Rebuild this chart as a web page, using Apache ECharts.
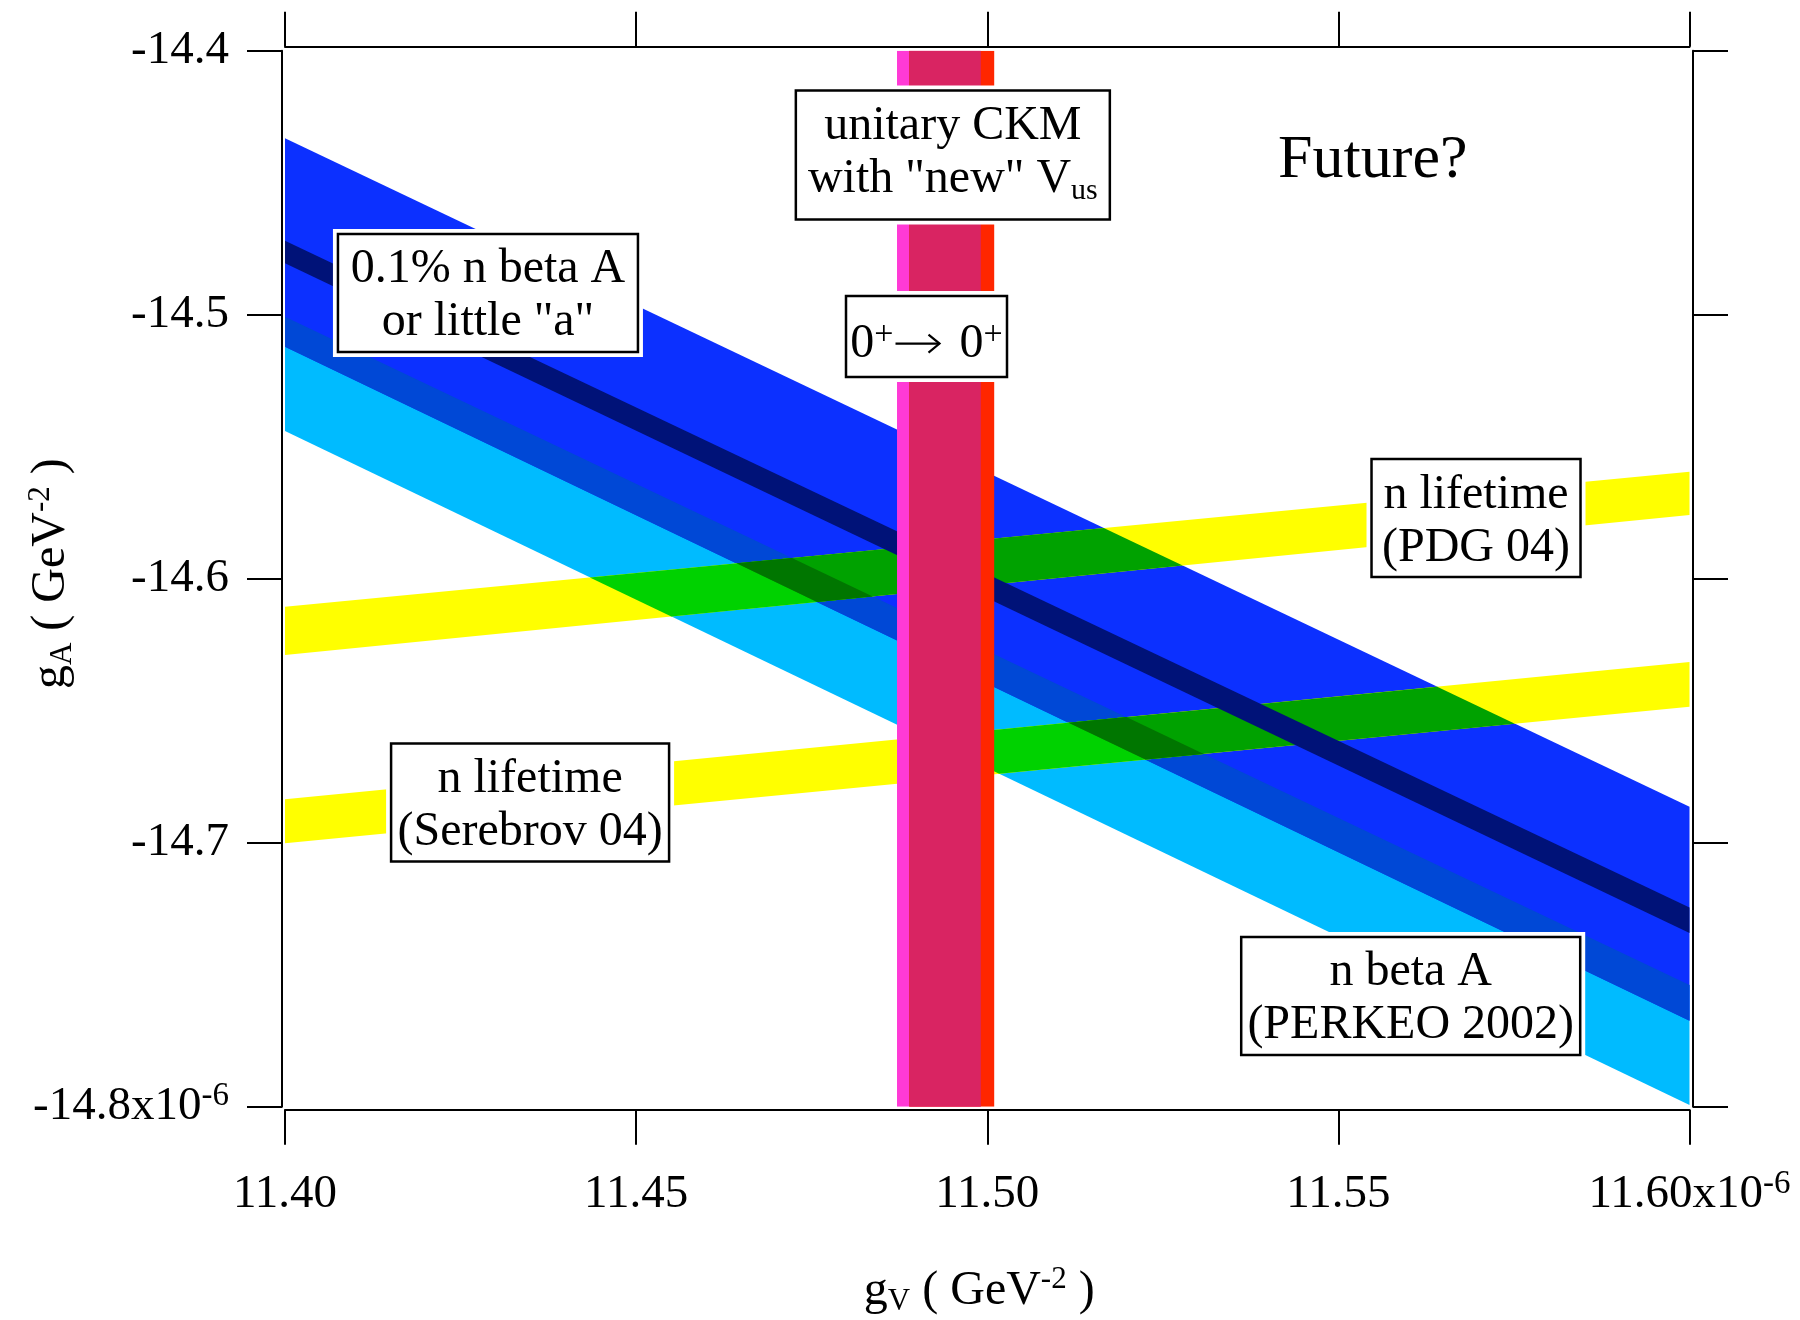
<!DOCTYPE html>
<html>
<head>
<meta charset="utf-8">
<script src="https://cdn.jsdelivr.net/npm/echarts@6/dist/echarts.min.js"></script>
<style>
html, body { margin: 0; padding: 0; background: #ffffff; }
#chart { width: 1800px; height: 1320px; }
</style>
</head>
<body>
<div id="chart"></div>
<script>
// ---- values -------------------------------------------------------------
// gV positions at which the sloped band edges are given
const gvEnds = [11.40, 11.60];
// neutron beta asymmetry, PERKEO 2002 (gA at gV = 11.40, 11.60)
const perkeoUpper = [-14.5008, -14.7539];
const perkeoLower = [-14.5441, -14.7994];
// 0.1% n beta A or little "a"
const betaAUpper = [-14.4332, -14.6864];
const betaALower = [-14.5121, -14.7674];
const betaACoreUpper = [-14.4720, -14.7245];
const betaACoreLower = [-14.4805, -14.7342];
// neutron lifetime, PDG 04
const pdgUpper = [-14.6106, -14.5595];
const pdgLower = [-14.6289, -14.5759];
// neutron lifetime, Serebrov 04
const serebrovUpper = [-14.6835, -14.6316];
const serebrovLower = [-14.7002, -14.6485];
// vertical bands (gV intervals)
const ckmBand = [11.48715, 11.49908];
const superallowedBand = [11.48889, 11.50099];
// axis ticks
const gvTicks = ['11.40', '11.45', '11.50', '11.55', '11.60'];
const gaTicks = ['-14.8', '-14.7', '-14.6', '-14.5', '-14.4'];

// ---- helpers ------------------------------------------------------------
const FONT = '"Liberation Serif", "Times New Roman", serif';
const gvMin = parseFloat(gvTicks[0]), gvMax = parseFloat(gvTicks[gvTicks.length - 1]);
const gaMin = parseFloat(gaTicks[0]), gaMax = parseFloat(gaTicks[gaTicks.length - 1]);

function band(upper, lower) {
  return [[gvEnds[0], upper[0]], [gvEnds[1], upper[1]], [gvEnds[1], lower[1]], [gvEnds[0], lower[0]]];
}
function strip(range) {
  return [[range[0], gaMin], [range[1], gaMin], [range[1], gaMax], [range[0], gaMax]];
}
function signedArea(p) {
  let s = 0;
  for (let i = 0; i < p.length; i++) {
    const a = p[i], b = p[(i + 1) % p.length];
    s += a[0] * b[1] - b[0] * a[1];
  }
  return s / 2;
}
// Sutherland-Hodgman intersection of a polygon with a convex polygon
function intersect(subject, clip) {
  const orient = Math.sign(signedArea(clip));
  let out = subject;
  for (let i = 0; i < clip.length && out.length; i++) {
    const a = clip[i], b = clip[(i + 1) % clip.length];
    const side = p => orient * ((b[0] - a[0]) * (p[1] - a[1]) - (b[1] - a[1]) * (p[0] - a[0]));
    const input = out;
    out = [];
    for (let j = 0; j < input.length; j++) {
      const P = input[j], Q = input[(j + 1) % input.length];
      const sp = side(P), sq = side(Q);
      if (sp >= 0) out.push(P);
      if ((sp >= 0) !== (sq >= 0)) {
        const t = sp / (sp - sq);
        out.push([P[0] + t * (Q[0] - P[0]), P[1] + t * (Q[1] - P[1])]);
      }
    }
  }
  return out;
}

const perkeo = band(perkeoUpper, perkeoLower);
const betaA = band(betaAUpper, betaALower);
const betaACore = band(betaACoreUpper, betaACoreLower);
const pdg = band(pdgUpper, pdgLower);
const serebrov = band(serebrovUpper, serebrovLower);
const ckm = strip(ckmBand);
const superallowed = strip(superallowedBand);
const lifetimes = [pdg, serebrov];

// drawing order, bottom to top
const layers = [
  { name: 'n beta A (PERKEO 2002)', color: '#00BBFF', polys: [perkeo] },
  { name: '0.1% n beta A', color: '#0C30FF', polys: [betaA] },
  { name: 'beta A overlap', color: '#0048D6', polys: [intersect(betaA, perkeo)] },
  { name: 'n lifetime', color: '#FFFF00', polys: lifetimes },
  { name: 'lifetime x PERKEO', color: '#00D200', polys: lifetimes.map(l => intersect(l, perkeo)) },
  { name: 'lifetime x 0.1% A', color: '#00A200', polys: lifetimes.map(l => intersect(l, betaA)) },
  { name: 'lifetime x both', color: '#007600', polys: lifetimes.map(l => intersect(intersect(l, betaA), perkeo)) },
  { name: '0.1% n beta A central', color: '#001278', polys: [betaACore] },
  { name: 'unitary CKM', color: '#FF3AD6', polys: [ckm] },
  { name: '0+ -> 0+', color: '#FF2600', polys: [superallowed] },
  { name: 'CKM x 0+ -> 0+', color: '#D92462', polys: [intersect(ckm, superallowed)] }
];

const bandSeries = layers.map((layer, k) => ({
  type: 'custom',
  name: layer.name,
  clip: true,
  silent: true,
  z: 2 + k,
  data: layer.polys.map((_, i) => i),
  renderItem: (params, api) => {
    const poly = layer.polys[params.dataIndex];
    if (!poly || poly.length < 3) return null;
    return {
      type: 'polygon',
      shape: { points: poly.map(p => api.coord(p)) },
      style: { fill: layer.color }
    };
  }
}));

// ---- boxed annotations -------------------------------------------------
const richText = {
  sup: { fontSize: 34, fontFamily: FONT, verticalAlign: 'top', lineHeight: 8, fill: '#000' },
  sub: { fontSize: 30, fontFamily: FONT, verticalAlign: 'bottom', lineHeight: 12, fill: '#000' }
};
const notes = [
  { text: '0.1% n beta A\nor little "a"', at: [11.4289, -14.4918], box: [300, 118], dy: 3 },
  { text: 'unitary CKM\nwith "new" V{sub|us}', at: [11.4951, -14.4395], box: [314, 129], dy: -2 },
  // transition label: text on either side of a drawn arrow
  { left: '0{sup|+}', right: '0{sup|+}', at: [11.49135, -14.5083], box: [161, 81], dy: 8 },
  { text: 'n lifetime\n(PDG 04)', at: [11.5696, -14.5770], box: [209, 118], dy: 4 },
  { text: 'n lifetime\n(Serebrov 04)', at: [11.4349, -14.6848], box: [278, 118], dy: 3 },
  { text: 'n beta A\n(PERKEO 2002)', at: [11.5603, -14.7581], box: [339, 118], dy: 3 },
  { text: 'Future?', at: [11.5549, -14.4399], box: null, dy: 5, size: 62 }
];

function noteText(text, x, y, align, size) {
  return {
    type: 'text', x: x, y: y,
    style: {
      text: text, align: align, verticalAlign: 'middle',
      fontSize: size || 48, fontFamily: FONT, lineHeight: 53,
      fill: '#000000', rich: richText
    }
  };
}

const noteSeries = {
  type: 'custom',
  name: 'notes',
  clip: false,
  silent: true,
  z: 30,
  data: notes.map((_, i) => i),
  renderItem: (params, api) => {
    const n = notes[params.dataIndex];
    const p = api.coord(n.at);
    const children = [];
    if (n.box) {
      const w = n.box[0], h = n.box[1];
      children.push({
        type: 'rect',
        shape: { x: p[0] - w / 2 - 5, y: p[1] - h / 2 - 5, width: w + 10, height: h + 10 },
        style: { fill: '#ffffff' }
      });
      children.push({
        type: 'rect',
        shape: { x: p[0] - w / 2, y: p[1] - h / 2, width: w, height: h },
        style: { fill: '#ffffff', stroke: '#000000', lineWidth: 2.5 }
      });
    }
    if (n.left !== undefined) {
      const ay = p[1] + 7;
      children.push(noteText(n.left, p[0] - 33, p[1] + n.dy, 'right'));
      children.push(noteText(n.right, p[0] + 33, p[1] + n.dy, 'left'));
      children.push({
        type: 'line',
        shape: { x1: p[0] - 31, y1: ay, x2: p[0] + 13, y2: ay },
        style: { stroke: '#000', lineWidth: 2.2 }
      });
      children.push({
        type: 'polyline',
        shape: { points: [[p[0] + 2, ay - 9], [p[0] + 13, ay], [p[0] + 2, ay + 9]] },
        style: { stroke: '#000', lineWidth: 2.2, fill: null }
      });
    } else {
      children.push(noteText(n.text, p[0], p[1] + n.dy, 'center', n.size));
    }
    return { type: 'group', children: children };
  }
};

// ---- axes ---------------------------------------------------------------
function nearestTick(v, ticks) {
  let best = 0;
  ticks.forEach((t, i) => {
    if (Math.abs(parseFloat(t) - v) < Math.abs(parseFloat(ticks[best]) - v)) best = i;
  });
  return best;
}
const axisLine = { show: true, onZero: false, lineStyle: { color: '#000', width: 2 } };
const axisTick = { show: true, inside: false, length: 35, lineStyle: { color: '#000', width: 2 } };
const labelRich = {
  e: { fontSize: 33, fontFamily: FONT, color: '#000', verticalAlign: 'top', lineHeight: 8 }
};
function nameStyle(padding) {
  return {
    fontSize: 48, fontFamily: FONT, color: '#000', lineHeight: 53, padding: padding,
    rich: {
      sub: { fontSize: 31, fontFamily: FONT, color: '#000', verticalAlign: 'bottom', lineHeight: 15 },
      sup: { fontSize: 31, fontFamily: FONT, color: '#000', verticalAlign: 'top', lineHeight: 9 }
    }
  };
}

const option = {
  backgroundColor: '#ffffff',
  animation: false,
  grid: {
    left: 285, top: 50.7, width: 1404.5, height: 1056,
    containLabel: false, outerBoundsMode: 'none', show: false
  },
  xAxis: [
    {
      type: 'value', position: 'bottom', min: gvMin, max: gvMax, interval: 0.05, offset: 3,
      axisLine: axisLine, axisTick: axisTick, splitLine: { show: false },
      axisLabel: {
        margin: 58, fontSize: 47, fontFamily: FONT, color: '#000', lineHeight: 53, rich: labelRich,
        formatter: v => {
          const i = nearestTick(v, gvTicks);
          return i === gvTicks.length - 1 ? gvTicks[i] + 'x10{e|-6}' : gvTicks[i];
        }
      },
      name: 'g{sub|V} ( GeV{sup|-2} )', nameLocation: 'middle', nameGap: 155,
      nameMoveOverlap: false,
      nameTextStyle: nameStyle([0, 16, 0, 0])
    },
    {
      type: 'value', position: 'top', min: gvMin, max: gvMax, interval: 0.05, offset: 4,
      axisLine: axisLine, axisTick: axisTick, splitLine: { show: false },
      axisLabel: { show: false }
    }
  ],
  yAxis: [
    {
      type: 'value', position: 'left', min: gaMin, max: gaMax, interval: 0.1, offset: 3,
      axisLine: axisLine, axisTick: axisTick, splitLine: { show: false },
      axisLabel: {
        margin: 53, fontSize: 47, fontFamily: FONT, color: '#000', lineHeight: 53, rich: labelRich,
        formatter: v => {
          const i = nearestTick(v, gaTicks);
          return i === 0 ? gaTicks[i] + 'x10{e|-6}' : gaTicks[i];
        }
      },
      name: 'g{sub|A} ( GeV{sup|-2} )', nameLocation: 'middle', nameGap: 204, nameRotate: 90,
      nameMoveOverlap: false,
      nameTextStyle: nameStyle([0, 0, 0, 10])
    },
    {
      type: 'value', position: 'right', min: gaMin, max: gaMax, interval: 0.1, offset: 3.5,
      axisLine: axisLine, axisTick: axisTick, splitLine: { show: false },
      axisLabel: { show: false }
    }
  ],
  series: bandSeries.concat([noteSeries])
};

const chart = echarts.init(document.getElementById('chart'), null, { renderer: 'canvas' });
chart.setOption(option);
</script>
</body>
</html>
